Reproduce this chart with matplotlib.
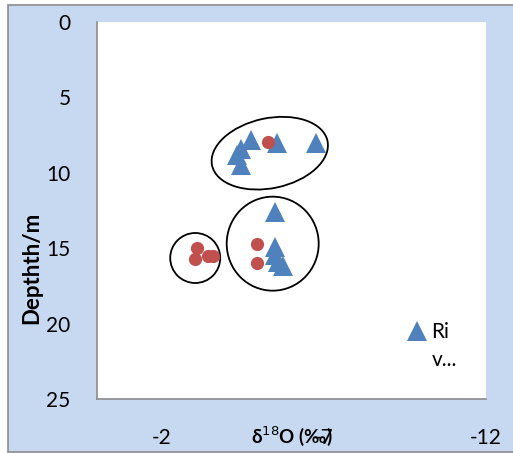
import matplotlib.pyplot as plt
from matplotlib.patches import Ellipse, Rectangle
from matplotlib.transforms import IdentityTransform

plt.rcParams['font.family'] = ['Lato', 'DejaVu Sans']
plt.rcParams['axes.unicode_minus'] = False

# river samples (triangles)
river_x = [-4.74, -4.43, -4.33, -4.43, -5.54, -6.75,
           -5.48, -5.48, -5.48, -5.57, -5.73]
river_y = [7.8, 8.4, 8.8, 9.5, 8.0, 8.0,
           12.6, 14.9, 15.45, 15.9, 16.2]

# other samples (circles)
other_x = [-5.26, -4.95, -4.95, -3.10, -3.03, -3.41, -3.59]
other_y = [7.96, 14.7, 16.0, 15.0, 15.7, 15.5, 15.5]

xticks = [-2, -7, -12]
yticks = [0, 5, 10, 15, 20, 25]

# groups drawn by hand: centre in data, size in pixels, angle
groups = [((-5.33, 8.7), 118, 70, 12),
          ((-5.42, 14.7), 92, 94, 0),
          ((-3.03, 15.65), 50, 50, 0)]

W, H = 513, 453
fig = plt.figure(figsize=(W / 100, H / 100), dpi=100)
fig.patch.set_facecolor('white')
fig.patches.append(Rectangle((8 / W, 1 - 452 / H), 1, (452 - 5) / H,
                             transform=fig.transFigure, facecolor='#c6d9f1',
                             edgecolor='#8c8c8c', linewidth=1.2, zorder=-10))

ax = fig.add_axes([97 / W, (H - 399) / H, (486 - 97) / W, (399 - 22) / H])
ax.set_facecolor('white')

ax.plot(river_x, river_y, '^', color='#4f81bd', ms=14, mew=0, label='Ri')
ax.plot(other_x, other_y, 'o', color='#c0504d', ms=9.5, mew=0)

ax.set_xlim(0, -12)
ax.set_ylim(25, 0)
ax.set_xticks(xticks)
ax.set_yticks(yticks)
ax.tick_params(axis='y', length=0, pad=19, labelsize=15)
ax.tick_params(axis='x', length=0, pad=21, labelsize=15)
for s in ['top', 'right']:
    ax.spines[s].set_visible(False)
for s in ['left', 'bottom']:
    ax.spines[s].set_color('#8c8c8c')
    ax.spines[s].set_linewidth(1.2)

ax.set_ylabel('Depthth/m', fontsize=16, fontweight='bold')
ax.yaxis.set_label_coords(-0.141, 0.347)
ax.text(0.5, -0.1, 'δ$^{18}$O (‰)', transform=ax.transAxes, fontsize=13.5,
        fontweight='bold', ha='center', va='center')

fig.canvas.draw()
for (cx, cy), w, h, ang in groups:
    px, py = ax.transData.transform((cx, cy))
    ax.add_artist(Ellipse((px, py), w, h, angle=ang, fill=False,
                          edgecolor='black', linewidth=1.3,
                          transform=IdentityTransform()))

leg = ax.legend(loc='center left', bbox_to_anchor=(0.79, 0.178), frameon=False,
                fontsize=15, handletextpad=0.1, handlelength=1.2,
                borderaxespad=0, borderpad=0)
ax.text(0.86, 0.103, 'v...', transform=ax.transAxes, fontsize=15,
        ha='left', va='center')

fig.savefig('out.png', dpi=100)
